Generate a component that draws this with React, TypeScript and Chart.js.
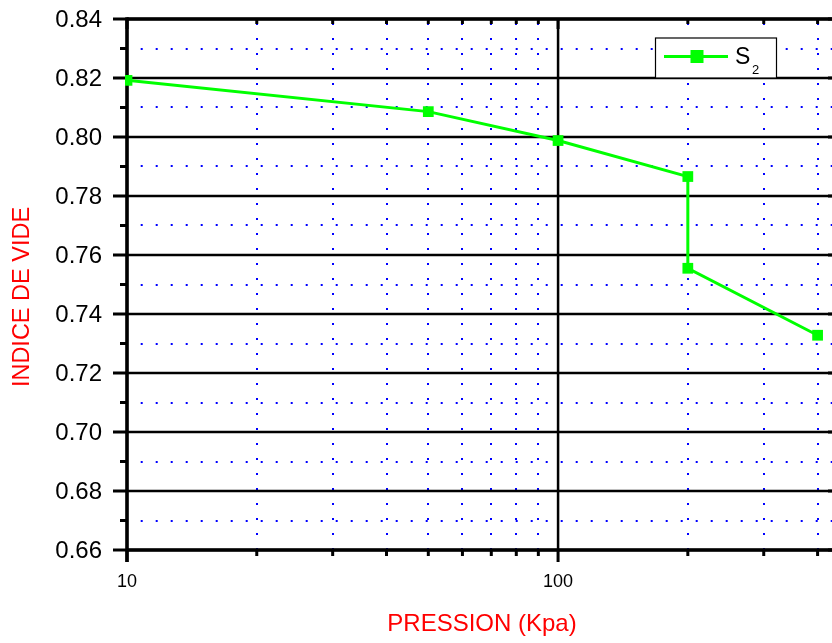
import React, { useEffect, useRef } from "react";
import { Chart, registerables } from "chart.js";

Chart.register(...registerables);

// ---- data ----
const pressures = [10, 50, 100, 200, 200, 400];
const voidRatios = [0.8192, 0.8086, 0.7988, 0.7866, 0.7555, 0.7328];
const seriesName = "S";
const seriesSub = "2";

const yMajorTicks = [0.66, 0.68, 0.7, 0.72, 0.74, 0.76, 0.78, 0.8, 0.82, 0.84];
const yTickLabels = ["0.66", "0.68", "0.70", "0.72", "0.74", "0.76", "0.78", "0.80", "0.82", "0.84"];
const yMinorTicks = [0.67, 0.69, 0.71, 0.73, 0.75, 0.77, 0.79, 0.81, 0.83];
const xMajorTicks = [10, 100];
const xTickLabels = ["10", "100"];
const xMinorTicks = [20, 30, 40, 50, 60, 70, 80, 90, 200, 300, 400];

const xTitle = "PRESSION (Kpa)";
const yTitle = "INDICE DE VIDE";

const FONT = '"Liberation Sans", Arial, Helvetica, sans-serif';
const GREEN = "#00FF00";

const framePlugin = {
  id: "originFrame",
  beforeDatasetsDraw(chart: any) {
    const { ctx, chartArea: a, scales } = chart;
    const x = scales.x;
    const y = scales.y;
    ctx.save();

    // minor dotted grid
    ctx.strokeStyle = "#0000FF";
    ctx.lineWidth = 2;
    ctx.setLineDash([2, 13]);
    yMinorTicks.forEach((v) => {
      const py = Math.round(y.getPixelForValue(v));
      ctx.lineDashOffset = 1.3;
      ctx.beginPath();
      ctx.moveTo(a.left, py);
      ctx.lineTo(a.right, py);
      ctx.stroke();
    });
    xMinorTicks.forEach((v) => {
      const px = Math.round(x.getPixelForValue(v));
      ctx.lineDashOffset = 0;
      ctx.beginPath();
      ctx.moveTo(px, a.bottom);
      ctx.lineTo(px, a.top);
      ctx.stroke();
    });
    ctx.setLineDash([]);

    // major grid
    ctx.strokeStyle = "#000000";
    ctx.lineWidth = 2.5;
    yMajorTicks.forEach((v) => {
      const py = y.getPixelForValue(v);
      ctx.beginPath();
      ctx.moveTo(a.left, py);
      ctx.lineTo(a.right, py);
      ctx.stroke();
    });
    xMajorTicks.forEach((v) => {
      const px = x.getPixelForValue(v);
      ctx.beginPath();
      ctx.moveTo(px, a.top);
      ctx.lineTo(px, a.bottom);
      ctx.stroke();
    });

    // ticks
    ctx.lineWidth = 3;
    const seg = (x1: number, y1: number, x2: number, y2: number) => {
      ctx.beginPath();
      ctx.moveTo(x1, y1);
      ctx.lineTo(x2, y2);
      ctx.stroke();
    };
    yMajorTicks.forEach((v) => {
      const py = y.getPixelForValue(v);
      seg(a.left - 14, py, a.left, py);
      seg(a.right - 4, py, a.right, py);
    });
    yMinorTicks.forEach((v) => {
      const py = y.getPixelForValue(v);
      seg(a.left - 7, py, a.left, py);
    });
    xMajorTicks.forEach((v) => {
      const px = x.getPixelForValue(v);
      seg(px, a.bottom, px, a.bottom + 12);
      seg(px, a.top, px, a.top + 10);
    });
    xMinorTicks.forEach((v) => {
      const px = x.getPixelForValue(v);
      seg(px, a.bottom, px, a.bottom + 6);
      seg(px, a.top, px, a.top + 5);
    });

    // axes
    ctx.lineWidth = 3.5;
    seg(a.left, a.top, a.right, a.top);
    seg(a.left, a.bottom, a.right, a.bottom);
    seg(a.left, a.top - 1.75, a.left, a.bottom + 12);

    // tick labels
    ctx.fillStyle = "#000000";
    ctx.font = `24px ${FONT}`;
    ctx.textAlign = "right";
    ctx.textBaseline = "middle";
    yMajorTicks.forEach((v, i) => {
      ctx.fillText(yTickLabels[i], a.left - 25, y.getPixelForValue(v) + 1);
    });
    ctx.font = `18px ${FONT}`;
    ctx.textAlign = "center";
    xMajorTicks.forEach((v, i) => {
      ctx.fillText(xTickLabels[i], x.getPixelForValue(v), a.bottom + 32);
    });

    // axis titles
    ctx.fillStyle = "#FF0000";
    ctx.font = `24px ${FONT}`;
    ctx.textAlign = "center";
    ctx.textBaseline = "middle";
    ctx.fillText(xTitle, 482, a.bottom + 74);
    ctx.save();
    ctx.translate(23, 297);
    ctx.rotate(-Math.PI / 2);
    ctx.font = `23.5px ${FONT}`;
    ctx.fillText(yTitle, 0, 0);
    ctx.restore();

    ctx.restore();
  },
  afterDatasetsDraw(chart: any) {
    const { ctx } = chart;
    ctx.save();
    // legend box
    ctx.fillStyle = "#FFFFFF";
    ctx.fillRect(655.5, 38, 121, 40);
    ctx.strokeStyle = "#000000";
    ctx.lineWidth = 1.2;
    ctx.strokeRect(655.5, 38, 121, 40);
    ctx.strokeStyle = GREEN;
    ctx.lineWidth = 3;
    ctx.beginPath();
    ctx.moveTo(664, 56.5);
    ctx.lineTo(728, 56.5);
    ctx.stroke();
    ctx.fillStyle = GREEN;
    ctx.fillRect(690.5, 50, 13, 13);
    ctx.fillStyle = "#000000";
    ctx.textAlign = "left";
    ctx.textBaseline = "alphabetic";
    ctx.font = `23px ${FONT}`;
    ctx.fillText(seriesName, 735, 63.5);
    ctx.font = `13px ${FONT}`;
    ctx.fillText(seriesSub, 752, 74);
    ctx.restore();
  },
};

export default function App() {
  const canvasRef = useRef<HTMLCanvasElement | null>(null);

  useEffect(() => {
    if (!canvasRef.current) return;
    const chart = new Chart(canvasRef.current, {
      type: "line",
      data: {
        datasets: [
          {
            label: seriesName + seriesSub,
            data: pressures.map((p, i) => ({ x: p, y: voidRatios[i] })),
            borderColor: GREEN,
            backgroundColor: GREEN,
            borderWidth: 3,
            pointStyle: "rect",
            pointRadius: 7.6,
            pointBorderWidth: 0,
            pointBackgroundColor: GREEN,
            tension: 0,
            clip: { left: 2, top: 10, right: 10, bottom: 10 } as any,
          },
        ],
      },
      options: {
        animation: false,
        responsive: true,
        maintainAspectRatio: false,
        devicePixelRatio: 1,
        layout: { autoPadding: false, padding: { left: 127, right: 0, top: 19, bottom: 93 } },
        scales: {
          x: { type: "logarithmic", min: 10, max: 432, display: false },
          y: { type: "linear", min: 0.66, max: 0.84, display: false },
        },
        plugins: {
          legend: { display: false },
          tooltip: { enabled: false },
        },
        events: [],
      },
      plugins: [framePlugin],
    });
    return () => chart.destroy();
  }, []);

  return (
    <div style={{ position: "fixed", left: 0, top: 0, width: 832, height: 643, background: "#fff" }}>
      <canvas ref={canvasRef} />
    </div>
  );
}
